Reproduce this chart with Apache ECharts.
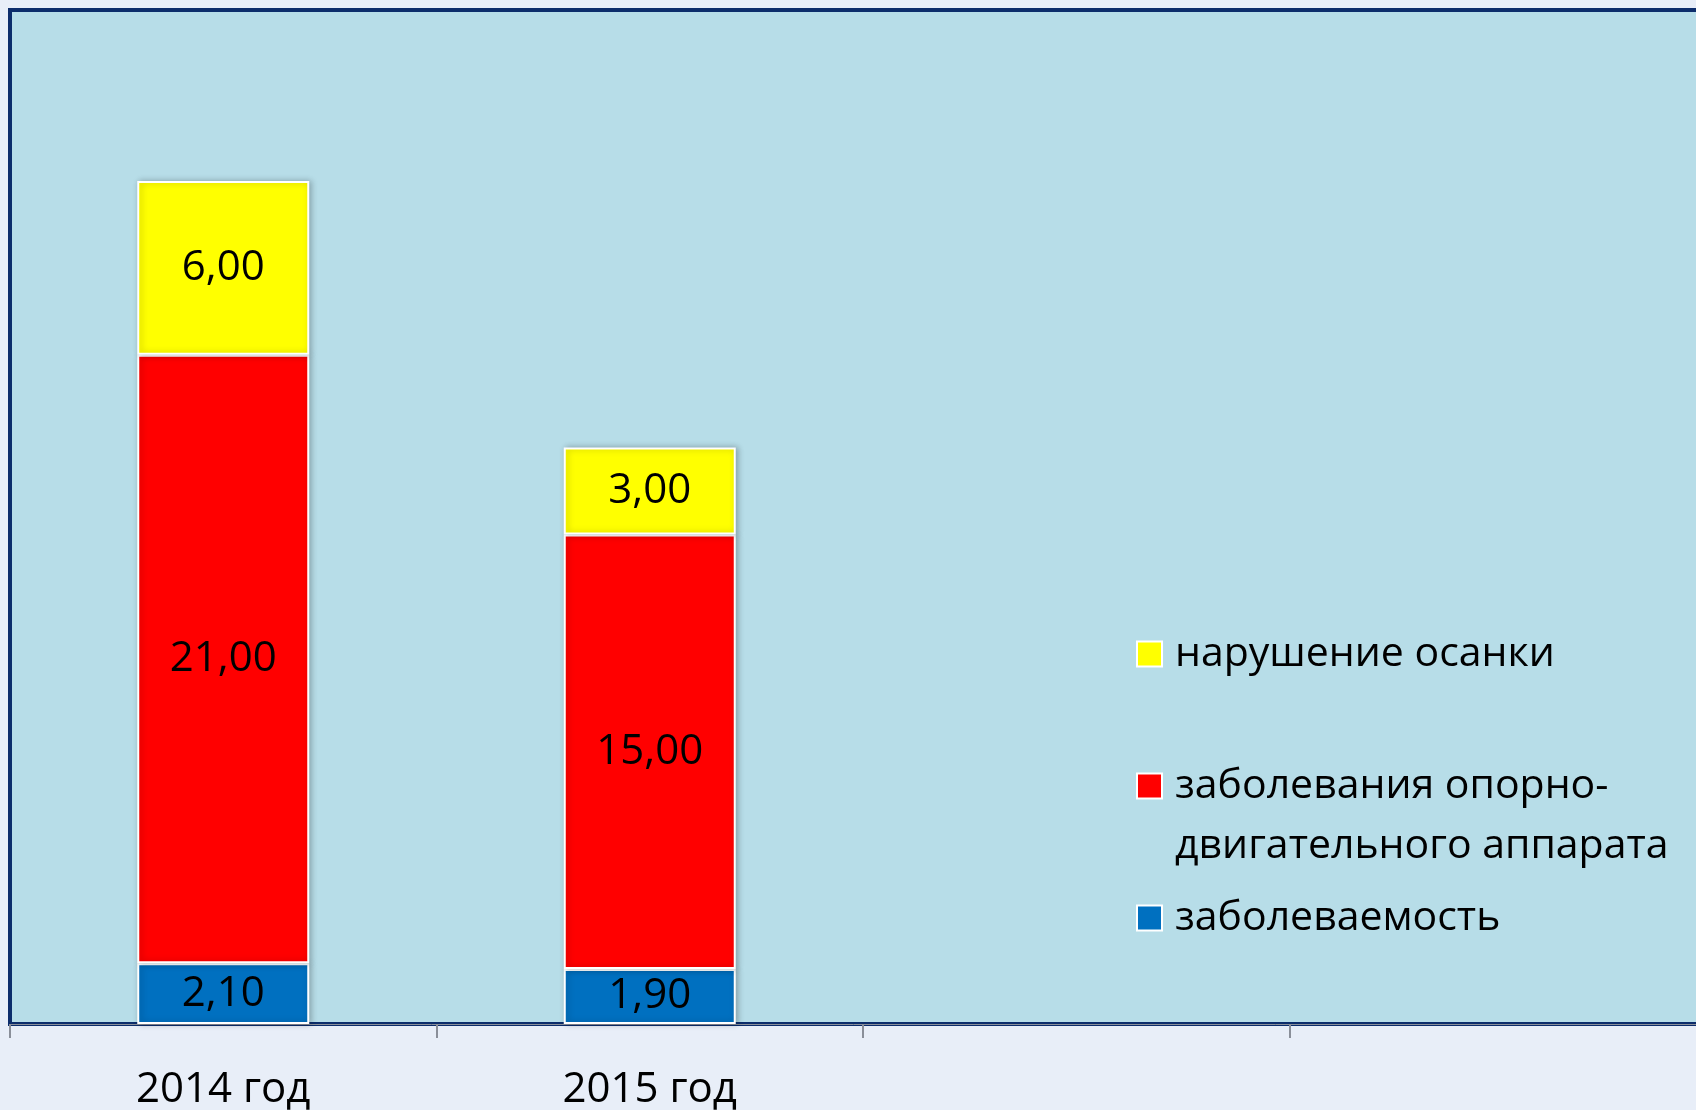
<!DOCTYPE html>
<html lang="ru">
<head>
    <meta charset="UTF-8">
    <title>Заболеваемость</title>
    <script src="https://cdn.jsdelivr.net/npm/echarts@6/dist/echarts.min.js"></script>
    <style type="text/css">
        html, body { margin: 0; padding: 0; background: #e8eef8; }
        #chart { width: 1696px; height: 1110px; }
    </style>
</head>
<body>
<div id="chart"></div>
<script>
    // данные
    var years = ['2014 год', '2015 год', '', ''];
    var zabolevaemost = [2.1, 1.9, null, null];
    var oda = [21, 15, null, null];
    var osanka = [6, 3, null, null];

    var names = ['заболеваемость', 'заболевания опорно-двигательного аппарата', 'нарушение осанки'];
    var colors = ['#0070c0', '#ff0000', '#ffff00'];

    var font = '"Open Sans", "Noto Sans", sans-serif';

    function fmt(p) {
        return p.value.toFixed(2).replace('.', ',');
    }

    function bar(i, data) {
        return {
            name: names[i],
            type: 'bar',
            stack: 'total',
            barWidth: 172,
            data: data,
            itemStyle: {
                color: colors[i],
                borderColor: '#ffffff',
                borderWidth: 2,
                shadowColor: 'rgba(0,0,0,0.25)',
                shadowBlur: 6,
                shadowOffsetX: 2
            },
            label: {
                show: true,
                position: 'inside',
                color: '#000',
                fontFamily: font,
                fontSize: 42,
                formatter: fmt
            }
        };
    }

    function legend(i, top, twoLines) {
        var l = {
            data: [names[i]],
            left: 1136,
            top: top,
            padding: 0,
            icon: 'rect',
            itemWidth: 25,
            itemHeight: 25,
            textStyle: {
                color: '#000',
                fontFamily: font,
                fontSize: 41,
                lineHeight: 42,
                padding: [0, 0, 0, 8]
            }
        };
        if (twoLines) {
            // пустая первая строка, чтобы значок стоял напротив первой строки текста
            l.formatter = function (name) { return '\n' + name.replace('опорно-', 'опорно-\n'); };
            l.textStyle.lineHeight = 60;
        }
        return l;
    }

    var myChart = echarts.init(document.getElementById('chart'));
    var option = {
        backgroundColor: '#e8eef8',
        animation: false,
        grid: {
            left: 10,
            top: 10,
            width: 1706,
            bottom: 86,
            outerBoundsMode: 'none',
            show: true,
            backgroundColor: '#b7dde8',
            borderColor: '#0c2d6b',
            borderWidth: 4
        },
        legend: [
            legend(2, 633),
            legend(1, 696, true),
            legend(0, 897)
        ],
        xAxis: {
            type: 'category',
            data: years,
            axisLine: { lineStyle: { color: '#8a8f99', width: 1 } },
            axisTick: { show: true, length: 14, lineStyle: { color: '#8a8f99', width: 2 } },
            axisLabel: {
                color: '#000',
                fontFamily: font,
                fontSize: 42,
                lineHeight: 42,
                margin: 45
            }
        },
        yAxis: {
            type: 'value',
            min: 0,
            max: 35,
            show: false
        },
        series: [
            bar(0, zabolevaemost),
            bar(1, oda),
            bar(2, osanka)
        ]
    };
    myChart.setOption(option);
</script>
</body>
</html>
